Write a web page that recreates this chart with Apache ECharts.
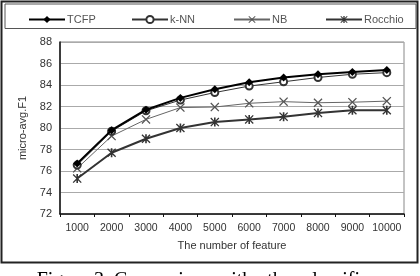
<!DOCTYPE html>
<html>
<head>
<meta charset="utf-8">
<script src="https://cdn.jsdelivr.net/npm/echarts@6/dist/echarts.min.js"></script>
<style>
  html, body { margin: 0; padding: 0; background: #fff; }
  #chart { width: 420px; height: 276px; }
</style>
</head>
<body>
<div id="chart"></div>
<script>
// data
const features = ['1000', '2000', '3000', '4000', '5000', '6000', '7000', '8000', '9000', '10000'];
const tcfp = [76.7, 79.8, 81.7, 82.8, 83.6, 84.25, 84.7, 85.0, 85.2, 85.4];
const knn = [76.55, 79.7, 81.6, 82.6, 83.3, 83.9, 84.3, 84.7, 85.0, 85.15];
const nb = [76.25, 79.25, 80.8, 81.9, 81.95, 82.3, 82.45, 82.35, 82.4, 82.5];
const rocchio = [75.3, 77.7, 79.0, 80.0, 80.55, 80.8, 81.05, 81.4, 81.65, 81.65];
const seriesNames = ['TCFP', 'k-NN', 'NB', 'Rocchio'];

const xSymbol = 'path://M0,1L1,0L5,4L9,0L10,1L6,5L10,9L9,10L5,6L1,10L0,9L4,5Z';
const starSymbol = 'path://M0,1L1,0L5,4L9,0L10,1L6,5L10,9L9,10L5,6L1,10L0,9L4,5Z' +
  'M4.1,0L5.9,0L5.9,10L4.1,10Z';

const font = 'Liberation Sans, Arial, sans-serif';
const chart = echarts.init(document.getElementById('chart'));

const legendBase = {
  top: 9,
  itemWidth: 36,
  itemHeight: 9,
  itemGap: 0,
  textStyle: { fontFamily: font, fontSize: 11, color: '#555', padding: [0, 0, 0, -3] }
};

chart.setOption({
  animation: false,
  backgroundColor: '#fff',
  textStyle: { fontFamily: font },
  legend: [
    Object.assign({ left: 23, data: ['TCFP'] }, legendBase),
    Object.assign({ left: 126, data: ['k-NN'] }, legendBase),
    Object.assign({ left: 228, data: ['NB'] }, legendBase),
    Object.assign({ left: 320, data: ['Rocchio'] }, legendBase)
  ],
  graphic: [
    { type: 'rect', shape: { x: 1.5, y: 1.5, width: 416, height: 261 },
      style: { fill: 'none', stroke: '#222', lineWidth: 2 }, z: -1 },
    { type: 'rect', shape: { x: 5, y: 4, width: 411, height: 24.5 },
      style: { fill: 'none', stroke: '#555', lineWidth: 1 }, z: -1 },
    { type: 'text', left: 'center', top: 271,
      style: { text: 'Figure 3. Comparison with other classifiers',
        font: '20px "Liberation Serif", "Times New Roman", serif', fill: '#000' } }
  ],
  grid: {
    left: 60, right: 16, top: 42, bottom: 62,
    show: true, borderColor: '#888', borderWidth: 1
  },
  xAxis: {
    type: 'category',
    data: features,
    name: 'The number of feature',
    nameLocation: 'middle',
    nameGap: 26,
    nameTextStyle: { fontFamily: font, fontSize: 11, color: '#333' },
    axisLine: { lineStyle: { color: '#111', width: 1.5 } },
    axisTick: { show: true, length: 3, lineStyle: { color: '#111' } },
    axisLabel: { fontFamily: font, fontSize: 10.5, color: '#333', margin: 9, interval: 0 }
  },
  yAxis: {
    type: 'value',
    min: 72, max: 88, interval: 2,
    name: 'micro-avg.F1',
    nameLocation: 'middle',
    nameGap: 28,
    nameTextStyle: { fontFamily: font, fontSize: 11, color: '#333' },
    axisLine: { show: true, lineStyle: { color: '#111', width: 1.5 } },
    axisTick: { show: false },
    axisLabel: { fontFamily: font, fontSize: 11, color: '#333', margin: 8 },
    splitLine: { lineStyle: { color: '#aaa', width: 1 } }
  },
  series: [
    { name: seriesNames[0], type: 'line', data: tcfp, symbol: 'diamond', symbolSize: 8,
      lineStyle: { color: '#000', width: 2 }, itemStyle: { color: '#000' }, z: 5 },
    { name: seriesNames[1], type: 'line', data: knn, symbol: 'emptyCircle', symbolSize: 7,
      lineStyle: { color: '#333', width: 1 },
      itemStyle: { color: '#333', borderColor: '#333', borderWidth: 1.6 }, z: 4 },
    { name: seriesNames[2], type: 'line', data: nb, symbol: xSymbol, symbolSize: 9,
      lineStyle: { color: '#666', width: 1 }, itemStyle: { color: '#555' }, z: 3 },
    { name: seriesNames[3], type: 'line', data: rocchio, symbol: starSymbol, symbolSize: 9,
      lineStyle: { color: '#333', width: 2 }, itemStyle: { color: '#333' }, z: 2 }
  ]
});
</script>
</body>
</html>
